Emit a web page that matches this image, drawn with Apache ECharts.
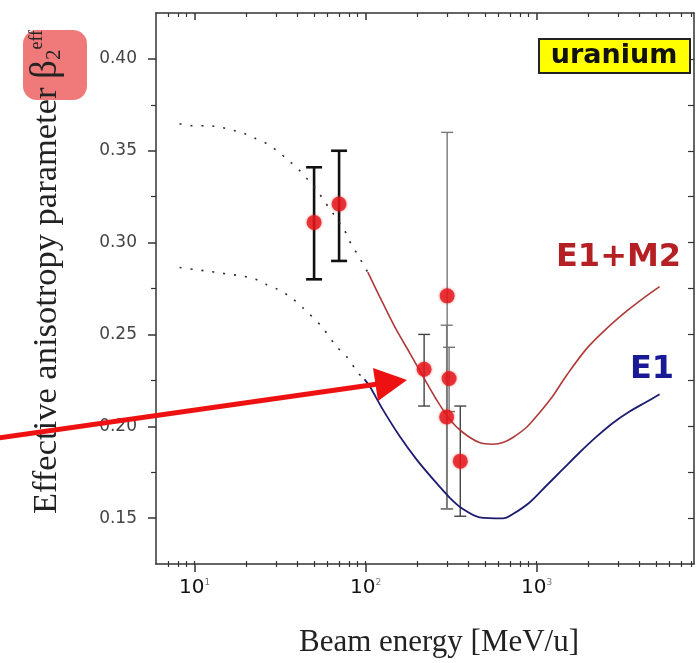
<!DOCTYPE html>
<html><head><meta charset="utf-8">
<script src="https://cdn.jsdelivr.net/npm/echarts@6/dist/echarts.min.js"></script>
<style>html,body{margin:0;padding:0;background:#fff}#c{width:696px;height:663px}</style>
</head><body><div id="c"></div>
<script>
// ---- tick values ----
const xMajorTicks = [10, 100, 1000];
const xMinorTicks = [7, 8, 9, 20, 30, 40, 50, 60, 70, 80, 90, 200, 300, 400, 500, 600, 700, 800, 900, 2000, 3000, 4000, 5000, 6000, 7000, 8000];
const yMajorTicks = [0.15, 0.20, 0.25, 0.30, 0.35, 0.40];
const yMinorTicks = [0.175, 0.225, 0.275, 0.325, 0.375];

// ---- experimental points (energy MeV/u, beta2 eff, error low, error high) ----
const expEnergy = [50, 70, 220, 300, 308, 298, 358];
const expBeta   = [0.311, 0.321, 0.231, 0.271, 0.226, 0.205, 0.181];
const expLow    = [0.280, 0.290, 0.211, 0.155, 0.208, 0.155, 0.151];
const expHigh   = [0.341, 0.350, 0.250, 0.360, 0.243, 0.255, 0.211];

// ---- theory curves ----
const e1m2Dotted = [[8.17,0.3647],[9.77,0.3636],[12.0,0.3636],[14.0,0.3629],[16.4,0.3614],[19.2,0.3596],[22.4,0.3569],[26.5,0.3538],[30.7,0.3496],[35.6,0.3446],[41.1,0.3393],[46.0,0.3342],[51.5,0.3292],[56.3,0.3237],[64.1,0.3163],[73.1,0.3085],[78.8,0.3034],[83.2,0.2980],[90.2,0.2935],[96.4,0.2884],[103,0.2839]];
const e1m2Solid = [[103,0.2839],[126,0.2672],[151,0.2527],[181,0.2400],[216,0.2274],[259,0.2147],[310,0.2038],[371,0.1966],[464,0.1911],[555,0.1902],[636,0.1911],[727,0.1939],[871,0.1993],[1041,0.2074],[1245,0.2165],[1492,0.2275],[1952,0.2420],[2556,0.2530],[3346,0.2625],[4183,0.2695],[5240,0.2760]];
const e1Dotted = [[8.17,0.2864],[10,0.2853],[12,0.2844],[14,0.2835],[16.4,0.2826],[19.2,0.2817],[22.4,0.2803],[26.3,0.2772],[30.7,0.2745],[36.8,0.2700],[43,0.2645],[55.1,0.2545],[67.4,0.2436],[77.1,0.2382],[90.2,0.2292],[98.6,0.2255]];
const e1Solid = [[98.6,0.2255],[105.5,0.2219],[126,0.2092],[158,0.1947],[198,0.1821],[248,0.1712],[310,0.1612],[371,0.1549],[464,0.1504],[636,0.1498],[727,0.1522],[910,0.1585],[1140,0.1676],[1425,0.1766],[1784,0.1857],[2234,0.1942],[2794,0.2018],[3499,0.2080],[4380,0.2132],[5240,0.2174]];

const X_MIN = 5.95, X_MAX = 8330, Y_MIN = 0.125, Y_MAX = 0.425;
const AX = '#333';

function errBarSeries(indices, color, width, capHalf) {
  return {
    type: 'custom', xAxisIndex: 0, yAxisIndex: 0, z: 3, silent: true,
    data: indices.map(i => [expEnergy[i], expLow[i], expHigh[i]]),
    renderItem: (params, api) => {
      const x = api.value(0);
      const lo = api.coord([x, api.value(1)]);
      const hi = api.coord([x, api.value(2)]);
      const st = { stroke: color, lineWidth: width };
      return { type: 'group', children: [
        { type: 'line', shape: { x1: lo[0], y1: lo[1], x2: hi[0], y2: hi[1] }, style: st },
        { type: 'line', shape: { x1: lo[0] - capHalf, y1: lo[1], x2: lo[0] + capHalf, y2: lo[1] }, style: st },
        { type: 'line', shape: { x1: hi[0] - capHalf, y1: hi[1], x2: hi[0] + capHalf, y2: hi[1] }, style: st }
      ]};
    }
  };
}

function xAx(extra) {
  return Object.assign({
    type: 'log', logBase: 10, min: X_MIN, max: X_MAX, gridIndex: 0,
    axisLine: { show: false, onZero: false, lineStyle: { color: AX, width: 1.5 } },
    axisTick: { show: false },
    axisLabel: { show: false },
    splitLine: { show: false }, minorTick: { show: false }, minorSplitLine: { show: false }
  }, extra);
}
function yAx(extra) {
  return Object.assign({
    type: 'value', min: Y_MIN, max: Y_MAX, gridIndex: 0,
    axisLine: { show: false, onZero: false, lineStyle: { color: AX, width: 1.5 } },
    axisTick: { show: false },
    axisLabel: { show: false },
    splitLine: { show: false }
  }, extra);
}

const serif = 'Liberation Serif';
const chart = echarts.init(document.getElementById('c'), null, { renderer: 'canvas' });
chart.setOption({
  backgroundColor: '#fff',
  animation: false,
  grid: { left: 156, top: 13, width: 538, height: 552, containLabel: false },
  xAxis: [
    xAx({ position: 'bottom',
      axisLine: { show: true, onZero: false, lineStyle: { color: AX, width: 1.5 } },
      axisTick: { show: true, inside: false, length: 8, customValues: xMajorTicks, lineStyle: { color: AX, width: 1.5 } },
      axisLabel: { show: true, customValues: xMajorTicks, margin: 14,
        formatter: v => '{b|10}{s|' + Math.round(Math.log10(v)) + '}',
        rich: { b: { fontFamily: 'DejaVu Sans', fontSize: 20, color: '#111' },
                s: { fontFamily: 'DejaVu Sans', fontSize: 9, color: '#777', verticalAlign: 'top' } } },
      name: 'Beam energy [MeV/u]', nameLocation: 'middle', nameGap: 63,
      nameTextStyle: { fontFamily: serif, fontSize: 31, color: '#222', padding: [0, 0, 0, 28] }
    }),
    xAx({ position: 'bottom', axisTick: { show: true, inside: false, length: 3, customValues: xMinorTicks, lineStyle: { color: AX, width: 1.2 } } }),
    xAx({ position: 'bottom', axisTick: { show: true, inside: true, length: 3, customValues: xMinorTicks.concat(xMajorTicks), lineStyle: { color: AX, width: 1.2 } } }),
    xAx({ position: 'top',
      axisLine: { show: true, onZero: false, lineStyle: { color: AX, width: 1.5 } },
      axisTick: { show: true, inside: true, length: 7, customValues: xMajorTicks, lineStyle: { color: AX, width: 1.5 } } }),
    xAx({ position: 'top', axisTick: { show: true, inside: true, length: 4, customValues: xMinorTicks, lineStyle: { color: AX, width: 1.2 } } })
  ],
  yAxis: [
    yAx({ position: 'left',
      axisLine: { show: true, onZero: false, lineStyle: { color: AX, width: 1.5 } },
      axisTick: { show: true, inside: false, length: 8, customValues: yMajorTicks, lineStyle: { color: AX, width: 1.5 } },
      axisLabel: { show: true, customValues: yMajorTicks, margin: 19, formatter: v => v.toFixed(2),
        fontFamily: 'DejaVu Sans', fontSize: 17, color: '#444' },
      name: '{t|Effective anisotropy parameter }{g|β}{sub|2}{sup|eff}',
      nameLocation: 'middle', nameRotate: 90, nameGap: 91,
      nameTextStyle: { padding: [0, 0, 0, 33],
        rich: { t: { fontFamily: serif, fontSize: 34.5, color: '#222' },
                g: { fontFamily: serif, fontSize: 37, color: '#222' },
                sub: { fontFamily: serif, fontSize: 21, color: '#222', verticalAlign: 'bottom' },
                sup: { fontFamily: serif, fontSize: 18, color: '#222', verticalAlign: 'top' } } }
    }),
    yAx({ position: 'left', axisTick: { show: true, inside: false, length: 5, customValues: yMinorTicks, lineStyle: { color: AX, width: 1.2 } } }),
    yAx({ position: 'right',
      axisLine: { show: true, onZero: false, lineStyle: { color: AX, width: 1.5 } },
      axisTick: { show: true, inside: true, length: 6, customValues: yMajorTicks.concat(yMinorTicks), lineStyle: { color: AX, width: 1.2 } } })
  ],
  series: [
    { name: 'E1+M2 (extrapolated)', type: 'line', data: e1m2Dotted, smooth: 0.3, showSymbol: false, xAxisIndex: 0, yAxisIndex: 0,
      lineStyle: { color: '#3a2a2a', width: 1.6, type: [2, 9] } },
    { name: 'E1+M2', type: 'line', data: e1m2Solid, smooth: 0.3, showSymbol: false, xAxisIndex: 0, yAxisIndex: 0,
      lineStyle: { color: '#b03a3a', width: 1.6 } },
    { name: 'E1 (extrapolated)', type: 'line', data: e1Dotted, smooth: 0.3, showSymbol: false, xAxisIndex: 0, yAxisIndex: 0,
      lineStyle: { color: '#2a2a3a', width: 1.6, type: [2, 9] } },
    { name: 'E1', type: 'line', data: e1Solid, smooth: 0.3, showSymbol: false, xAxisIndex: 0, yAxisIndex: 0,
      lineStyle: { color: '#1c1c70', width: 1.8 } },
    errBarSeries([0, 1], '#111', 2.6, 8),
    errBarSeries([2, 6], '#444', 1.4, 6),
    errBarSeries([3, 4, 5], '#777', 1.4, 6),
    { name: 'data', type: 'scatter', xAxisIndex: 0, yAxisIndex: 0, z: 4,
      data: expEnergy.map((e, i) => [e, expBeta[i]]),
      symbol: 'circle', symbolSize: 15,
      itemStyle: { color: '#e3161c', shadowBlur: 3, shadowColor: 'rgba(230,20,20,0.6)' } }
  ],
  graphic: [
    { type: 'rect', z: -1, shape: { x: 23, y: 30, width: 64, height: 70, r: 14 }, style: { fill: '#f07a7a' } },
    { type: 'rect', z: 5, shape: { x: 539, y: 39, width: 151, height: 34 }, style: { fill: '#ffff00', stroke: '#222', lineWidth: 2 } },
    { type: 'text', z: 6, style: { text: 'uranium', x: 614, y: 56, align: 'center', verticalAlign: 'middle', font: 'bold 27px "DejaVu Sans"', fill: '#111' } },
    { type: 'text', z: 6, style: { text: 'E1+M2', x: 556, y: 258, align: 'left', verticalAlign: 'middle', font: 'bold 32px "DejaVu Sans"', fill: '#b52024' } },
    { type: 'text', z: 6, style: { text: 'E1', x: 630, y: 370, align: 'left', verticalAlign: 'middle', font: 'bold 32px "DejaVu Sans"', fill: '#1a1a96' } },
    { type: 'line', z: 100, shape: { x1: -2, y1: 438, x2: 378, y2: 384 }, style: { stroke: '#ee1111', lineWidth: 5 } },
    { type: 'polygon', z: 100, shape: { points: [[373, 368], [407, 380], [378, 401]] }, style: { fill: '#ee1111' } }
  ]
});
</script>
</body></html>
